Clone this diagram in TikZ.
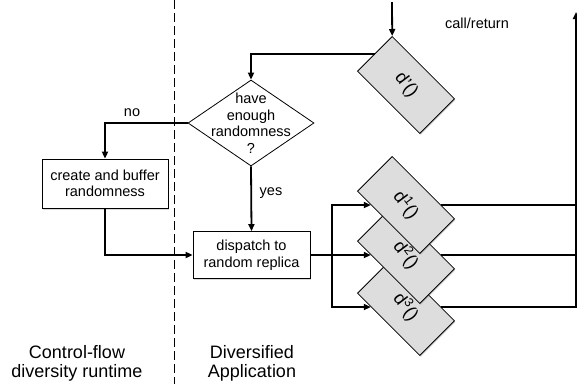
\documentclass[tikz,border=0pt]{standalone}
\usepackage{fontspec}
\setmainfont{Liberation Sans}
\usetikzlibrary{shapes.geometric,arrows.meta,shadows}
\definecolor{boxgray}{RGB}{221,221,221}

\begin{document}
\begin{tikzpicture}[x=1pt,y=1pt,
    txt/.style={font=\fontsize{14.5}{16.5}\selectfont, align=center},
    proc/.style={draw, line width=0.8pt, fill=white, txt, inner sep=0pt,
        drop shadow={opacity=0.3, shadow xshift=1pt, shadow yshift=-1.5pt}},
    decision/.style={draw, diamond, line width=0.8pt, fill=white, inner sep=0pt,
        minimum width=126pt, minimum height=86pt},
    func/.style={draw, line width=0.8pt, fill=boxgray, inner sep=0pt,
        minimum width=88pt, minimum height=49pt, rotate=-45,
        font=\fontsize{18}{18}\selectfont,
        drop shadow={opacity=0.3, shadow xshift=1pt, shadow yshift=-1.5pt}},
    flow/.style={line width=1.8pt, -{Triangle[length=7pt,width=6pt]}},
    wire/.style={line width=1.8pt}]
    \useasboundingbox (0,0) rectangle (577,-384);

    \draw[line width=0.9pt, dash pattern=on 9pt off 4pt] (174,0) -- (174,-384);

    \node[decision] (enough) at (251,-123) {};
    \node[txt] (enoughtext) at (251,-123) {have\\enough\\randomness\\?};
    \node[proc, minimum width=126pt, minimum height=49pt] (buffer) at (105,-183.5) {create and buffer\\randomness};
    \node[proc, minimum width=117pt, minimum height=47pt] (dispatch) at (251.5,-255) {dispatch to\\random replica};

    \node[func] (d0) at (406,-85) {\rotatebox{-8}{d’()}};
    \node[func] (d3) at (406,-307) {\rotatebox{-8}{d\textsuperscript{3}()}};
    \node[func] (d2) at (406,-255) {\rotatebox{-8}{d\textsuperscript{2}()}};
    \node[func] (d1) at (406,-205) {\rotatebox{-8}{d\textsuperscript{1}()}};

    \coordinate (callin) at (392,-2);
    \coordinate (ret) at (576,-12);
    \coordinate (fork) at (332,-255);

    \draw[flow] (callin) -- (d0.north west);
    \draw[flow] (d0.west) -| (enough.north);
    \draw[flow] (enough.west) -| (buffer.north);
    \draw[flow] (enough.south) -- (dispatch.north);
    \draw[flow] (buffer.south) |- (dispatch.west);
    \draw[flow] (dispatch.east) -- (d2);
    \draw[flow] (fork) |- (d1);
    \draw[flow] (fork) |- (d3);
    \draw[wire] (d1) -- (d1 -| ret);
    \draw[wire] (d2) -- (d2 -| ret);
    \draw[flow] (d3) -| (ret);

    \node[txt] (no) at (132,-113) {no};
    \node[txt] (yes) at (271,-193) {yes};
    \node[txt] (callret) at (477,-23) {call/return};

    \node[align=center, font=\fontsize{18}{19}\selectfont] (runtime) at (77,-363) {Control-flow\\diversity runtime};
    \node[align=center, font=\fontsize{18}{19}\selectfont] (app) at (252,-363) {Diversified\\Application};
\end{tikzpicture}
\end{document}
